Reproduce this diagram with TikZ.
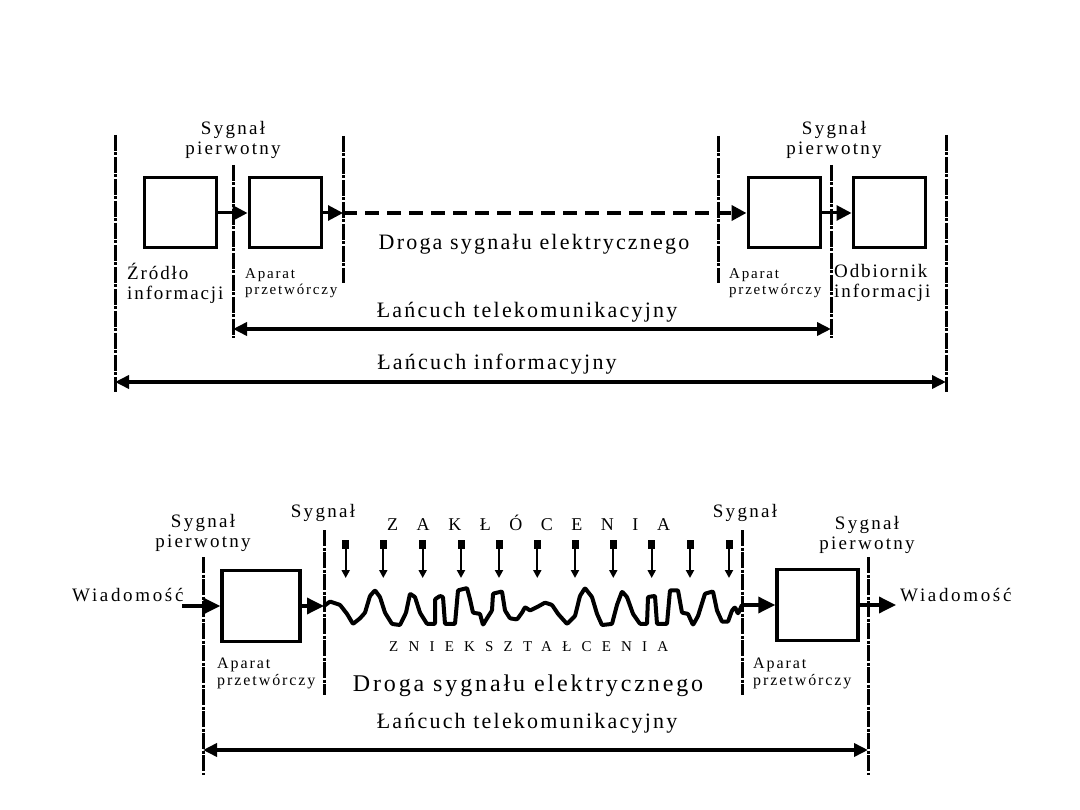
\documentclass[tikz,border=0pt]{standalone}
\usepackage{fontspec}
\setmainfont{Liberation Serif}
\newfontfamily\labf[LetterSpace=10]{Liberation Serif}
\newfontfamily\sigf[LetterSpace=12]{Liberation Serif}
\newfontfamily\wiaf[LetterSpace=14]{Liberation Serif}
\newfontfamily\zakf[LetterSpace=103]{Liberation Serif}
\newfontfamily\znif[LetterSpace=68]{Liberation Serif}
\usetikzlibrary{arrows.meta}
\begin{document}
\begin{tikzpicture}[x=1pt,y=-1pt,
  divline/.style={line width=3pt, dash pattern=on 16pt off 1.5pt on 3pt off 1.5pt},
  blk/.style={draw, line width=3pt, minimum width=72pt, minimum height=70pt, inner sep=0pt},
  blkb/.style={draw, line width=3.5pt, minimum height=71pt, inner sep=0pt},
  conn/.style={line width=3pt, -{Triangle[length=15pt,width=15pt]}},
  connb/.style={line width=3.5pt, -{Triangle[length=17pt,width=16pt]}},
  spanarrow/.style={line width=4.5pt, {Triangle[length=14pt,width=13pt]}-{Triangle[length=14pt,width=13pt]}},
  bigtxt/.style={font=\labf\fontsize{22}{24}\selectfont, inner sep=0pt},
  sigtxt/.style={font=\sigf\fontsize{19}{20}\selectfont, align=center, inner sep=0pt},
  labtxt/.style={font=\labf\fontsize{19}{20}\selectfont, align=left, inner sep=0pt, anchor=west},
  smltxt/.style={font=\sigf\fontsize{15}{16}\selectfont, align=left, inner sep=0pt, anchor=west},
  smlbtxt/.style={font=\sigf\fontsize{16}{17}\selectfont, align=left, inner sep=0pt, anchor=west},
  wiatxt/.style={font=\wiaf\fontsize{19}{20}\selectfont, inner sep=0pt, anchor=west},
  noisearrow/.style={line width=2.2pt, {Square[length=9pt,width=7pt]}-{Triangle[length=8pt,width=8pt]}},
  wavepath/.style={line width=4pt, rounded corners=0.8pt, line join=round},
]
\useasboundingbox (0,0) rectangle (1080,810);

% ===================== TOP DIAGRAM =====================
\coordinate (L1t) at (115,135); \coordinate (L1b) at (115,392);
\coordinate (L2t) at (233,165); \coordinate (L2b) at (233,338);
\coordinate (L3t) at (343,136); \coordinate (L3b) at (343,283);
\coordinate (L4t) at (718,136); \coordinate (L4b) at (718,283);
\coordinate (L5t) at (831,165); \coordinate (L5b) at (831,338);
\coordinate (L6t) at (946,135); \coordinate (L6b) at (946,392);
\foreach \a in {1,...,6}{\draw[divline] (L\a t) -- (L\a b);}

\node[blk] (src) at (180,213) {};
\node[blk] (ap1) at (285,213) {};
\node[blk] (ap2) at (784,213) {};
\node[blk] (rcv) at (889,213) {};

\coordinate (d1) at (343,213);
\draw[conn] (src.east) -- (ap1.west);
\draw[conn] (ap1.east) -- (d1);
\draw[line width=4pt, dash pattern=on 14pt off 8pt, -{Triangle[length=15pt,width=15pt]}] (d1) -- (ap2.west);
\draw[conn] (ap2.east) -- (rcv.west);

\node[sigtxt] (sp1) at (233,140) {Sygnał\\pierwotny};
\node[sigtxt] (sp2) at (834,140) {Sygnał\\pierwotny};
\node[labtxt] (zrd) at (127,283) {Źródło\\informacji};
\node[smltxt] (apt1) at (245,283) {Aparat\\przetwórczy};
\node[smltxt] (apt2) at (729,283) {Aparat\\przetwórczy};
\node[labtxt] (odb) at (834,283) {Odbiornik\\informacji};
\node[bigtxt] (drg1) at (534,244) {Droga sygnału elektrycznego};

\node[bigtxt] (lt1) at (527,312) {Łańcuch telekomunikacyjny};
\coordinate (lt1a) at (233,329); \coordinate (lt1b) at (831,329);
\draw[spanarrow] (lt1a) -- (lt1b);

\node[bigtxt] (li) at (497,364) {Łańcuch informacyjny};
\coordinate (lia) at (115,382); \coordinate (lib) at (946,382);
\draw[spanarrow] (lia) -- (lib);

% ===================== BOTTOM DIAGRAM =====================
\coordinate (B1t) at (203,557); \coordinate (B1b) at (203,775);
\coordinate (B2t) at (324,530); \coordinate (B2b) at (324,695);
\coordinate (B3t) at (742,530); \coordinate (B3b) at (742,695);
\coordinate (B4t) at (868,557); \coordinate (B4b) at (868,775);
\foreach \a in {1,...,4}{\draw[divline] (B\a t) -- (B\a b);}

\node[blkb, minimum width=78pt] (bap1) at (261,606) {};
\node[blkb, minimum width=81pt] (bap2) at (817.5,605) {};

\node[wiatxt] (wl) at (72,595) {Wiadomość};
\node[wiatxt] (wr) at (900,595) {Wiadomość};
\coordinate (win) at (182,606);
\coordinate (bout1) at (324,606);
\coordinate (bin2) at (742,605);
\coordinate (wout) at (896,605);
\draw[connb] (win) -- (bap1.west);
\draw[connb] (bap1.east) -- (bout1);
\draw[connb] (bin2) -- (bap2.west);
\draw[connb] (bap2.east) -- (wout);

\begin{scope}[yshift=-606pt, yscale=1.12, yshift=606pt]
\draw[wavepath] (324,606) -- (330,602) -- (340,605) -- (347,613) -- (353,622) -- (360,617) -- (365,612) -- (370,597) -- (375,592) -- (380,598) -- (385,612) -- (392,622) -- (400,623) -- (406,612) -- (410,595) -- (415,598) -- (420,612) -- (427,622) -- (435,622) -- (435,600) -- (440,597) -- (443,598) -- (445,622) -- (455,622) -- (458,592) -- (467,590) -- (470,600) -- (473,612) -- (480,613) -- (483,623) -- (487,617) -- (492,610) -- (493,595) -- (502,593) -- (505,610) -- (510,617) -- (517,618) -- (522,612) -- (525,607) -- (530,610) -- (537,607) -- (545,603) -- (552,605) -- (558,613) -- (567,622) -- (575,615) -- (580,597) -- (585,590) -- (592,598) -- (597,613) -- (602,623) -- (612,622) -- (617,605) -- (622,593) -- (627,598) -- (633,613) -- (640,622) -- (647,622) -- (648,598) -- (655,597) -- (657,622) -- (667,622) -- (670,592) -- (678,592) -- (682,612) -- (688,613) -- (693,623) -- (698,615) -- (705,595) -- (713,593) -- (717,610) -- (722,620) -- (728,620) -- (732,610) -- (735,607) -- (738,613) -- (742,605);
\end{scope}

\foreach \x [count=\i] in {345.7,383.3,422.7,461,499,537.3,575,613.3,651.7,690,729}{
  \coordinate (n\i t) at (\x,540);
  \coordinate (n\i b) at (\x,578);
  \draw[noisearrow] (n\i t) -- (n\i b);
}

\node[sigtxt] (bsp1) at (203,533) {Sygnał\\pierwotny};
\node[sigtxt] (bsp2) at (867,535) {Sygnał\\pierwotny};
\node[sigtxt] (bs1) at (323,513) {Sygnał};
\node[sigtxt] (bs2) at (745,513) {Sygnał};
\node[inner sep=0pt, anchor=west, font=\zakf\fontsize{18}{20}\selectfont] (zak) at (387,523) {ZAKŁÓCENIA};
\node[inner sep=0pt, anchor=west, font=\znif\fontsize{15}{18}\selectfont] (zni) at (389,647) {ZNIEKSZTAŁCENIA};
\node[smlbtxt] (bapt1) at (217,673) {Aparat\\przetwórczy};
\node[smlbtxt] (bapt2) at (753,673) {Aparat\\przetwórczy};
\node[inner sep=0pt, font=\sigf\fontsize{24}{26}\selectfont] (drg2) at (528,686) {Droga sygnału elektrycznego};
\node[bigtxt] (lt2) at (527,723) {Łańcuch telekomunikacyjny};
\coordinate (lt2a) at (203,750); \coordinate (lt2b) at (868,750);
\draw[spanarrow] (lt2a) -- (lt2b);
\end{tikzpicture}
\end{document}
